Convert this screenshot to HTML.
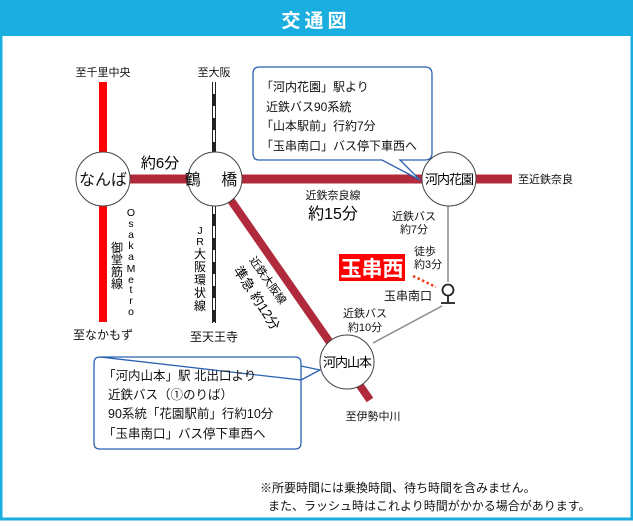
<!DOCTYPE html>
<html><head><meta charset="utf-8"><style>
body{margin:0;width:633px;height:521px;overflow:hidden;background:#fff;font-family:"Liberation Sans","Noto Sans CJK JP",sans-serif}
svg text{font-family:"Liberation Sans","Noto Sans CJK JP",sans-serif}
</style></head><body>
<svg width="633" height="521" viewBox="0 0 633 521" xmlns="http://www.w3.org/2000/svg">
<rect x="1" y="1" width="631" height="518" fill="#fff" stroke="#1aaee0" stroke-width="3"/>
<rect x="0" y="0" width="633" height="36" fill="#1aaee0"/>
<text x="316" y="27" font-size="19" font-weight="bold" fill="#fff" text-anchor="middle" letter-spacing="4">交通図</text>
<line x1="103" y1="82" x2="103" y2="322" stroke="#f00" stroke-width="8"/>
<line x1="214" y1="82" x2="214" y2="323" stroke="#222" stroke-width="4"/>
<line x1="214" y1="82" x2="214" y2="323" stroke="#fff" stroke-width="2" stroke-dasharray="12 12"/>
<line x1="103" y1="179" x2="512" y2="179" stroke="#b02a3c" stroke-width="9"/>
<line x1="230" y1="199" x2="370" y2="400" stroke="#b02a3c" stroke-width="8"/>
<line x1="448" y1="206" x2="448" y2="282" stroke="#888" stroke-width="1.5"/>
<line x1="373" y1="343" x2="442" y2="306" stroke="#888" stroke-width="1.5"/>
<line x1="413" y1="276" x2="436" y2="287" stroke="#f04020" stroke-width="2.5" stroke-dasharray="2.5 2.5"/>
<circle cx="448" cy="290" r="5.5" fill="#fff" stroke="#222" stroke-width="1.8"/>
<line x1="448" y1="296" x2="448" y2="303" stroke="#222" stroke-width="1.8"/>
<line x1="441" y1="303" x2="455" y2="303" stroke="#222" stroke-width="1.8"/>
<g fill="#fff" stroke="#444" stroke-width="1">
<circle cx="103" cy="179" r="27"/><circle cx="215" cy="179" r="27"/>
<circle cx="449" cy="179" r="27"/><circle cx="347" cy="362" r="27"/>
</g>
<g font-size="16" text-anchor="middle" fill="#111">
<text x="103" y="185">なんば</text>
<text x="215" y="185" letter-spacing="8">鶴 橋</text>
</g>
<text x="449" y="184" font-size="13" text-anchor="middle" letter-spacing="-1">河内花園</text>
<text x="347" y="367" font-size="13" text-anchor="middle" letter-spacing="-1">河内山本</text>
<g font-size="11" fill="#111">
<text x="103" y="76" text-anchor="middle">至千里中央</text>
<text x="214" y="76" text-anchor="middle">至大阪</text>
<text x="103" y="339" text-anchor="middle" font-size="12">至なかもず</text>
<text x="214" y="341" text-anchor="middle" font-size="12">至天王寺</text>
<text x="518" y="183">至近鉄奈良</text>
<text x="373" y="420" text-anchor="middle">至伊勢中川</text>
<text x="333" y="199" text-anchor="middle">近鉄奈良線</text>
<text x="414" y="220" text-anchor="middle">近鉄バス</text>
<text x="414" y="233" text-anchor="middle">約7分</text>
<text x="414" y="255">徒歩</text>
<text x="414" y="268">約3分</text>
<text x="408" y="300" font-size="12" text-anchor="middle">玉串南口</text>
<text x="365" y="317" text-anchor="middle">近鉄バス</text>
<text x="365" y="331" text-anchor="middle">約10分</text>
</g>
<text x="160" y="168" font-size="15" text-anchor="middle">約6分</text>
<text x="333" y="219" font-size="16" text-anchor="middle">約15分</text>
<g font-size="10.5" text-anchor="middle">
<text x="131" y="216">O</text><text x="131" y="227">s</text><text x="131" y="238">a</text><text x="131" y="249">k</text><text x="131" y="260">a</text><text x="131" y="272">M</text><text x="131" y="283">e</text><text x="131" y="293">t</text><text x="131" y="304">r</text><text x="131" y="315">o</text>
<text x="117" y="252" font-size="12">御</text><text x="117" y="264" font-size="12">堂</text><text x="117" y="276" font-size="12">筋</text><text x="117" y="288" font-size="12">線</text>
<text x="200" y="234">J</text><text x="200" y="245">R</text>
<text x="200" y="258" font-size="12">大</text><text x="200" y="271" font-size="12">阪</text><text x="200" y="284" font-size="12">環</text><text x="200" y="297" font-size="12">状</text><text x="200" y="310" font-size="12">線</text>
</g>
<text transform="translate(249,260) rotate(55)" font-size="11">近鉄大阪線</text>
<text transform="translate(233,270) rotate(57)" font-size="13.5">準急 約12分</text>
<rect x="339" y="254" width="66" height="27" fill="#f00"/>
<text x="372" y="276" font-size="21" font-weight="bold" fill="#fff" text-anchor="middle">玉串西</text>
<path d="M259,67 H425 Q432,67 432,74 V153 Q432,160 425,160 H400 L420,180 L382,160 H259 Q253,160 253,153 V74 Q253,67 259,67 Z" fill="#fff" stroke="#2a62b0" stroke-width="1.3"/>
<g font-size="12" fill="#111">
<text x="261" y="91">「河内花園」駅より</text>
<text x="266" y="111">近鉄バス90系統</text>
<text x="261" y="130">「山本駅前」行約7分</text>
<text x="261" y="150">「玉串南口」バス停下車西へ</text>
</g>
<path d="M100,357 H295 Q301,357 301,363 V380 L320,370 L301,366 M301,380 V443 Q301,449 295,449 H100 Q94,449 94,443 V363 Q94,357 100,357 Z" fill="#fff" stroke="#2a62b0" stroke-width="1.3"/>
<g font-size="12.5" fill="#111">
<text x="103" y="380">「河内山本」駅 北出口より</text>
<text x="108" y="399">近鉄バス（①のりば）</text>
<text x="108" y="418">90系統「花園駅前」行約10分</text>
<text x="103" y="438">「玉串南口」バス停下車西へ</text>
</g>
<g font-size="12" fill="#111">
<text x="260" y="492">※所要時間には乗換時間、待ち時間を含みません。</text>
<text x="268" y="510">また、ラッシュ時はこれより時間がかかる場合があります。</text>
</g>
</svg>
</body></html>
